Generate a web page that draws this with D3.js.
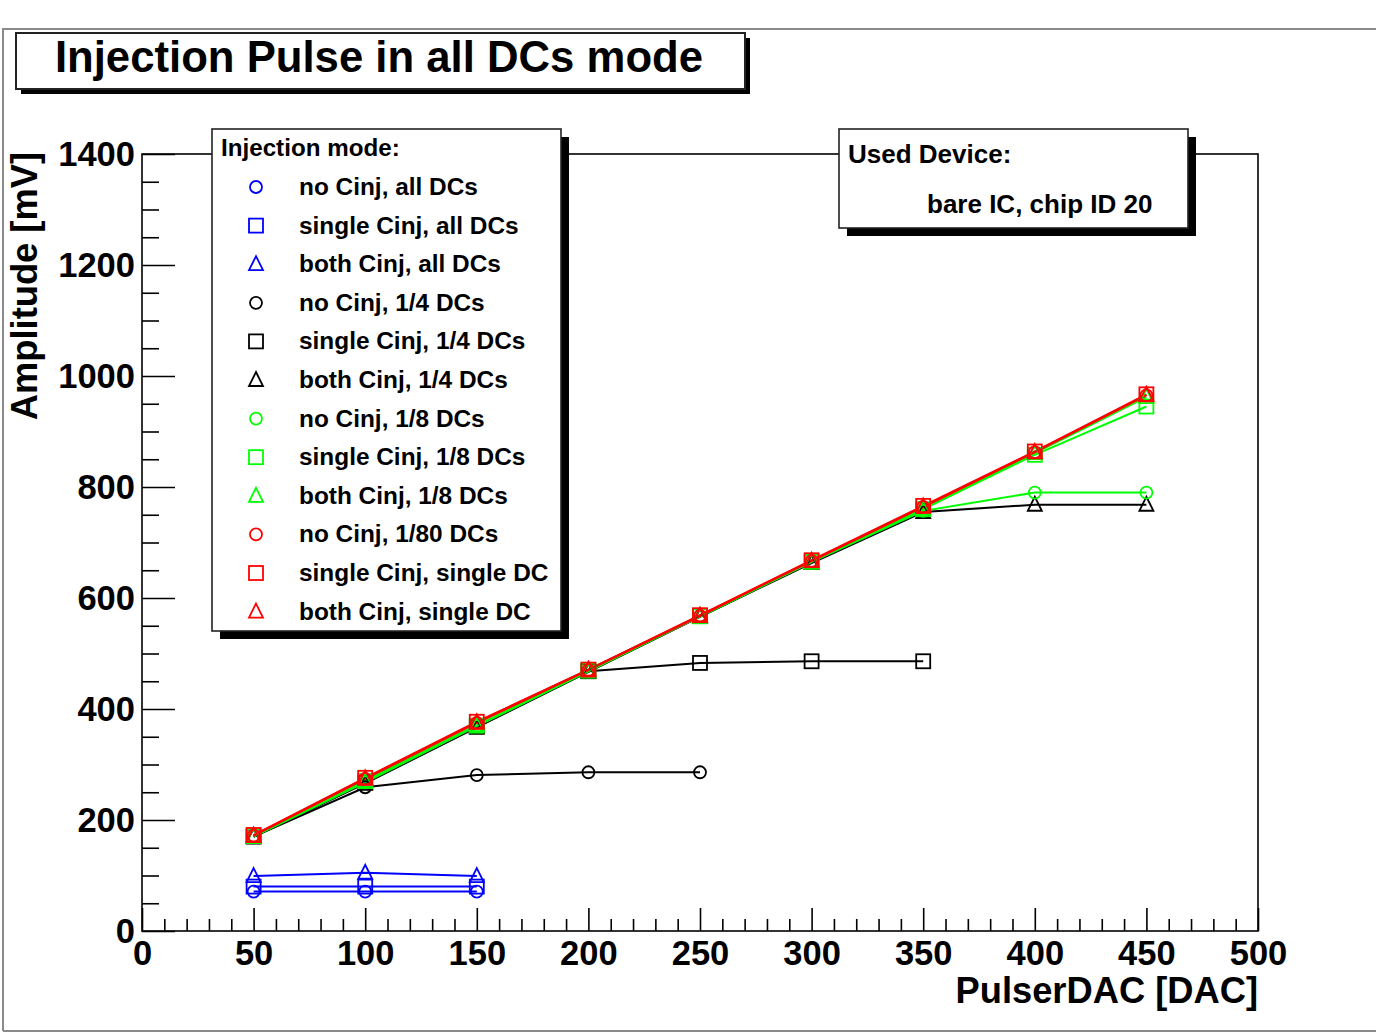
<!DOCTYPE html>
<html><head><meta charset="utf-8">
<script src="https://cdn.jsdelivr.net/npm/d3@7"></script>
<style>
body{margin:0;background:#fff;}
svg{display:block;}
text{font-family:"Liberation Sans",Arial,Helvetica,sans-serif;font-weight:bold;fill:#000;}
</style>
</head><body>
<svg id="c" width="1376" height="1034"></svg>
<script>
// ---- data ----
const pulserDAC = [50, 100, 150, 200, 250, 300, 350, 400, 450];
const noCinjAll      = [71, 71, 71];
const singleCinjAll  = [80, 80, 80];
const bothCinjAll    = [99, 105, 99];
const noCinjQuarter      = [170, 259, 281, 286, 286];
const singleCinjQuarter  = [170, 267, 368, 468, 483, 486, 486];
const bothCinjQuarter    = [170, 266, 367, 467, 566, 663, 755, 768, 768];
const noCinjEighth       = [170, 268, 369, 468, 567, 665, 757, 790, 790];
const singleCinjEighth   = [171, 270, 370, 469, 567, 665, 760, 858, 945];
const bothCinjEighth     = [171, 271, 371, 469, 568, 666, 761, 861, 962];
const noCinjSingle       = [172, 274, 375, 470, 568, 667, 764, 863, 965];
const singleCinjSingle   = [173, 276, 377, 471, 569, 668, 766, 864, 967];
const bothCinjSingle     = [172, 275, 376, 471, 568, 667, 765, 863, 966];
const legendLabels = ["no Cinj, all DCs","single Cinj, all DCs","both Cinj, all DCs",
  "no Cinj, 1/4 DCs","single Cinj, 1/4 DCs","both Cinj, 1/4 DCs",
  "no Cinj, 1/8 DCs","single Cinj, 1/8 DCs","both Cinj, 1/8 DCs",
  "no Cinj, 1/80 DCs","single Cinj, single DC","both Cinj, single DC"];
const seriesColors = ["#0000ff","#0000ff","#0000ff","#000000","#000000","#000000",
  "#00ff00","#00ff00","#00ff00","#ff0000","#ff0000","#ff0000"];
const seriesShapes = ["circle","square","triangle","circle","square","triangle",
  "circle","square","triangle","circle","square","triangle"];
const seriesValues = [noCinjAll,singleCinjAll,bothCinjAll,noCinjQuarter,singleCinjQuarter,bothCinjQuarter,
  noCinjEighth,singleCinjEighth,bothCinjEighth,noCinjSingle,singleCinjSingle,bothCinjSingle];
const xMajorTicks = [0,50,100,150,200,250,300,350,400,450,500];
const yMajorTicks = [0,200,400,600,800,1000,1200,1400];
const titleText = "Injection Pulse in all DCs mode";
const xTitle = "PulserDAC [DAC]";
const yTitle = "Amplitude [mV]";
const legendHeader = "Injection mode:";
const deviceLines = ["Used Device:", "bare IC, chip ID 20"];

// ---- layout ----
const svg = d3.select("#c");
const L = 142, R = 1258, T = 154, B = 931;
const x = d3.scaleLinear().domain([0,500]).range([L,R]);
const y = d3.scaleLinear().domain([0,1400]).range([B,T]);

// outer canvas frame
svg.append("path").attr("d","M3,1031 L3,29 L1376,29").attr("fill","none").attr("stroke","#8a8a8a").attr("stroke-width",2);
svg.append("line").attr("x1",3).attr("x2",1376).attr("y1",1031).attr("y2",1031).attr("stroke","#8a8a8a").attr("stroke-width",2);

// axes
const xMinor = d3.range(0,501,10).filter(v => v % 50 !== 0);
const yMinor = d3.range(0,1401,50).filter(v => v % 200 !== 0);
svg.append("g").attr("transform",`translate(0,${B})`)
  .call(d3.axisBottom(x).tickValues(xMajorTicks).tickSizeInner(-23).tickSizeOuter(0).tickPadding(10).tickFormat(d3.format("d")));
svg.append("g").attr("transform",`translate(0,${B})`)
  .call(d3.axisBottom(x).tickValues(xMinor).tickSizeInner(-12).tickSizeOuter(0).tickFormat(""));
svg.append("g").attr("transform",`translate(${L},0)`)
  .call(d3.axisLeft(y).tickValues(yMajorTicks).tickSizeInner(-33).tickSizeOuter(0).tickPadding(7).tickFormat(d3.format("d")));
svg.append("g").attr("transform",`translate(${L},0)`)
  .call(d3.axisLeft(y).tickValues(yMinor).tickSizeInner(-17).tickSizeOuter(0).tickFormat(""));
svg.selectAll(".domain").remove();
svg.selectAll(".tick line").attr("stroke","#000").attr("stroke-width",1.6);
svg.selectAll(".tick text").attr("font-size",34.5).attr("font-family","Liberation Sans, Arial, sans-serif").attr("font-weight","bold").attr("fill","#000");

// plot frame
svg.append("rect").attr("x",L).attr("y",T).attr("width",R-L).attr("height",B-T)
  .attr("fill","none").attr("stroke","#000").attr("stroke-width",1.6);

// axis titles
svg.append("text").attr("x",R).attr("y",1003).attr("text-anchor","end").attr("font-size",36.3).text(xTitle);
svg.append("text").attr("transform",`translate(37,152) rotate(-90)`).attr("text-anchor","end").attr("font-size",36.3).text(yTitle);

// marker drawer
function marker(g, shape, color, cx, cy){
  if(shape==="circle"){
    g.append("circle").attr("cx",cx).attr("cy",cy).attr("r",6).attr("fill","none").attr("stroke",color).attr("stroke-width",1.8);
  } else if(shape==="square"){
    g.append("rect").attr("x",cx-7).attr("y",cy-7).attr("width",14).attr("height",14).attr("fill","none").attr("stroke",color).attr("stroke-width",1.8);
  } else {
    g.append("path").attr("d",`M${cx},${cy-8} L${cx+7},${cy+6} L${cx-7},${cy+6} Z`).attr("fill","none").attr("stroke",color).attr("stroke-width",1.8);
  }
}

// data series
const line = d3.line().x(d => x(d[0])).y(d => y(d[1]));
const dataG = svg.append("g");
seriesValues.forEach((vals,i) => {
  const pts = vals.map((v,j) => [pulserDAC[j], v]);
  dataG.append("path").attr("d",line(pts)).attr("fill","none").attr("stroke",seriesColors[i]).attr("stroke-width",2);
});
seriesValues.forEach((vals,i) => {
  vals.forEach((v,j) => marker(dataG, seriesShapes[i], seriesColors[i], x(pulserDAC[j]), y(v)));
});

// boxes with shadows
function box(x0,y0,w,h,off,sw){
  svg.append("rect").attr("x",x0+off).attr("y",y0+off).attr("width",w).attr("height",h).attr("fill","#000");
  svg.append("rect").attr("x",x0).attr("y",y0).attr("width",w).attr("height",h).attr("fill","#fff").attr("stroke","#222").attr("stroke-width",sw);
}

// title
box(16,33,729,56,5,2);
svg.append("text").attr("x",379).attr("y",72).attr("text-anchor","middle").attr("font-size",43.7).text(titleText);

// legend
box(212,129,349,502,8,1.6);
svg.append("text").attr("x",221).attr("y",156).attr("font-size",24.2).text(legendHeader);
legendLabels.forEach((lab,i) => {
  const cy = 187 + i*38.6;
  marker(svg, seriesShapes[i], seriesColors[i], 256, cy);
  svg.append("text").attr("x",299).attr("y",cy+8).attr("font-size",24.4).text(lab);
});

// device box
box(839,129,349,99,8,1.6);
svg.append("text").attr("x",848).attr("y",163).attr("font-size",26).text(deviceLines[0]);
svg.append("text").attr("x",927).attr("y",213).attr("font-size",26).text(deviceLines[1]);
</script>
</body></html>
